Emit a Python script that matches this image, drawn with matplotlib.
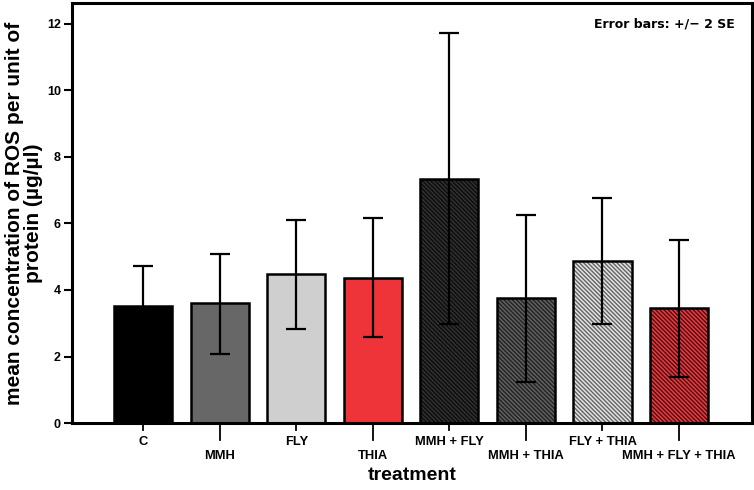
import matplotlib
matplotlib.use("Agg")
import matplotlib.pyplot as plt
import numpy as np

plt.rcParams['font.family'] = ['Liberation Sans', 'DejaVu Sans']
plt.rcParams['hatch.linewidth'] = 1.0

categories = ["C", "MMH", "FLY", "THIA", "MMH + FLY", "MMH + THIA", "FLY + THIA", "MMH + FLY + THIA"]
means = [3.52, 3.60, 4.48, 4.37, 7.34, 3.75, 4.87, 3.45]
err_high = [4.72, 5.08, 6.10, 6.16, 11.72, 6.26, 6.78, 5.50]
err_low = [2.32, 2.07, 2.83, 2.60, 2.97, 1.23, 2.97, 1.39]
colors = ["#000000", "#676767", "#cfcfcf", "#ee3339", "#303030", "#606060", "#e2e2e2", "#ec3a40"]
hatch_colors = ["black", "black", "black", "black", "#0d0d0d", "#222222", "#646464", "#4a1012"]
hatches = ["", "", "", "", "\\" * 8, "\\" * 8, "\\" * 8, "\\" * 8]
yticks = [0, 2, 4, 6, 8, 10, 12]

fig = plt.figure(figsize=(7.54, 4.90), dpi=100)
ax = fig.add_axes([0.0955, 0.1367, 0.9015, 0.8572])

x = np.arange(len(categories))
m = np.array(means)
yerr = np.vstack([m - np.array(err_low), np.array(err_high) - m])
for i in range(len(categories)):
    ax.bar(x[i], means[i], width=0.76, color=colors[i], edgecolor=hatch_colors[i],
           linewidth=0, hatch=hatches[i], zorder=2)
    ax.bar(x[i], means[i], width=0.76, fill=False, edgecolor="black",
           linewidth=1.8, zorder=2.5)
ax.errorbar(x, means, yerr=yerr, fmt="none", ecolor="black", elinewidth=1.6,
            capsize=7.5, capthick=1.6, zorder=3)

ax.set_xlim(-0.93, 7.95)
ax.set_ylim(0, 12.63)
ax.set_yticks(yticks)
ax.set_yticklabels([str(v) for v in yticks], fontsize=9, fontweight="bold")
ax.set_xticks(x)
ax.set_xticklabels([])
for i, lab in enumerate(categories):
    low = i % 2 == 1
    ax.text(x[i], -0.40 if not low else -0.82, lab, ha="center", va="top",
            fontsize=9.3, fontweight="bold", transform=ax.transData, clip_on=False)
ax.tick_params(axis="x", length=0)
for i in range(len(categories)):
    low = i % 2 == 1
    ax.plot([x[i], x[i]], [0, -0.52 if low else -0.22], color="black", lw=1.3,
            clip_on=False, zorder=1)
ax.tick_params(axis="y", length=6, width=1.5, pad=2)

for s in ax.spines.values():
    s.set_linewidth(2.2)

ax.set_ylabel("mean concentration of ROS per unit of\nprotein (µg/µl)", fontsize=15,
              fontweight="bold", labelpad=3, linespacing=0.95)
ax.set_xlabel("treatment", fontsize=14, fontweight="bold", labelpad=28)
ax.text(0.975, 0.965, "Error bars: +/\u2212 2 SE", transform=ax.transAxes, ha="right",
        va="top", fontsize=9, fontweight="bold", family=["DejaVu Sans"])

fig.savefig("out.png", dpi=100)
